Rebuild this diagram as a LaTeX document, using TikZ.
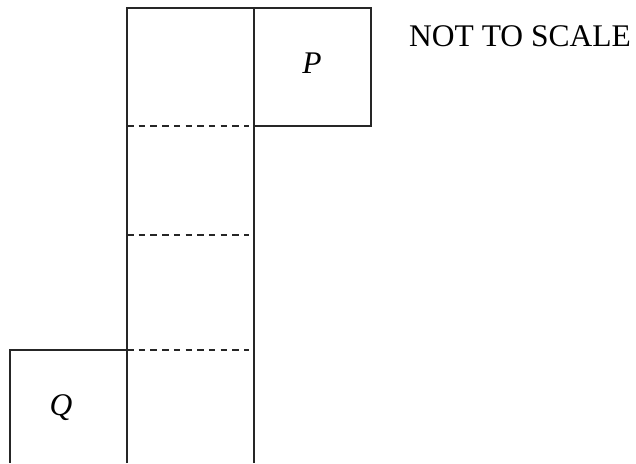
\documentclass[tikz,border=0pt]{standalone}
\usepackage{fontspec}
\setmainfont{Liberation Serif}
\begin{document}
\begin{tikzpicture}[x=1pt,y=-1pt,
  solidline/.style={line width=1.5pt,draw=black!85},
  cutline/.style={line width=1.5pt,draw=black!85,dash pattern=on 6.5pt off 5.2pt},
  lbl/.style={font=\fontsize{31.5}{36}\selectfont,inner sep=0pt}]
\useasboundingbox (0,0) rectangle (636,463);
% column
\coordinate (cTL) at (127,8);
\coordinate (cTR) at (254,8);
\coordinate (cBL) at (127,463);
\coordinate (cBR) at (254,463);
\draw[solidline] (cBL) -- (cTL) -- (cTR) -- (cBR);
% P square
\coordinate (pTR) at (371,8);
\coordinate (pBR) at (371,126);
\coordinate (pBL) at (254,126);
\draw[solidline] (cTR) -- (pTR) -- (pBR) -- (pBL);
% Q square
\coordinate (qTR) at (127,350);
\coordinate (qTL) at (10,350);
\coordinate (qBL) at (10,463);
\draw[solidline] (qTR) -- (qTL) -- (qBL);
% dashed folds
\coordinate (d1a) at (127,126); \coordinate (d1b) at (249,126);
\coordinate (d2a) at (127,235); \coordinate (d2b) at (249,235);
\coordinate (d3a) at (127,350); \coordinate (d3b) at (249,350);
\draw[cutline] (d1a) -- (d1b);
\draw[cutline] (d2a) -- (d2b);
\draw[cutline] (d3a) -- (d3b);
% labels
\node[lbl] (P) at (312,63) {\itshape P};
\node[lbl] (Q) at (61,408) {\itshape Q};
\node[lbl,anchor=west] (nts) at (409,36) {NOT TO SCALE};
\end{tikzpicture}
\end{document}
